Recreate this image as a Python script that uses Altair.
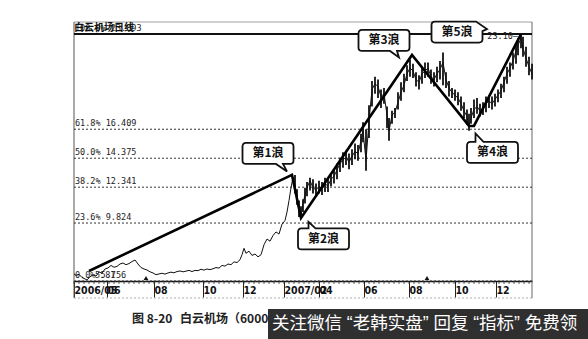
import altair as alt
import pandas as pd

# ---------------- data ----------------
# t = position along the trading-day axis (0 = first bar on the left)
T_LINE = [0, 2, 5, 8, 11, 13, 16, 19, 22, 25, 28, 31, 34, 37, 40, 43, 46, 49, 52, 55,
          58, 61, 64, 67, 70, 73, 76, 79, 82, 85, 88, 91, 94, 97, 100, 103, 106, 109, 112, 115,
          118, 121, 124, 127, 130, 133, 136, 139, 142, 145, 148, 151, 154, 157, 160, 163, 166, 168, 170, 172,
          175, 178, 181, 184, 187, 190, 193, 196, 199, 202, 205, 208, 211, 213, 215, 217, 219]
CLOSE_LINE = [6.25, 6.15, 6.22, 6.00, 5.90, 5.83, 6.05, 6.18, 6.10, 6.39, 6.30, 6.60, 6.67, 6.85, 6.72, 6.78, 6.95, 7.02, 6.90, 6.98,
              7.12, 7.23, 6.95, 6.70, 6.60, 6.53, 6.40, 6.32, 6.20, 6.25, 6.30, 6.24, 6.32, 6.38, 6.33, 6.42, 6.46, 6.40, 6.45, 6.50,
              6.42, 6.50, 6.48, 6.58, 6.52, 6.60, 6.55, 6.62, 6.70, 6.66, 6.85, 6.80, 6.95, 6.90, 7.10, 7.05, 7.25, 7.60, 8.05, 7.70,
              7.85, 7.55, 7.65, 7.45, 7.60, 8.30, 8.70, 8.55, 8.95, 9.20, 9.05, 9.75, 10.00, 10.60, 11.40, 12.30, 13.05]

T_BAR = [221, 223, 225, 227, 229, 231, 233, 236, 239, 242, 245, 248, 251, 254, 257, 260, 263, 266, 269, 272,
         275, 278, 281, 284, 287, 289, 292, 295, 298, 301, 304, 307, 310, 313, 315, 318, 321, 324, 327, 330,
         333, 336, 339, 342, 345, 348, 351, 354, 357, 360, 363, 366, 369, 372, 375, 378, 381, 384, 387, 390,
         393, 395, 397, 400, 403, 406, 409, 412, 415, 418, 421, 424, 427, 430, 433, 436, 439, 442, 444, 447,
         449, 452, 455, 458]
CLOSE_BAR = [12.40, 11.60, 10.70, 10.30, 11.20, 11.80, 12.30, 12.80, 12.30, 12.15, 12.40, 12.25, 12.55, 12.45, 12.90, 13.10, 13.55, 14.00, 14.25, 14.45,
             14.10, 14.50, 14.85, 14.70, 15.60, 16.30, 14.20, 17.00, 19.20, 19.60, 19.40, 18.70, 18.90, 17.40, 16.30, 17.40, 17.60, 18.30, 19.00, 19.50,
             20.30, 20.70, 20.50, 19.90, 19.70, 20.30, 20.50, 20.70, 20.10, 19.90, 20.30, 20.60, 21.10, 19.90, 19.30, 19.00, 18.80, 18.60, 18.20, 17.70,
             17.30, 16.70, 17.20, 17.80, 18.00, 17.70, 17.80, 18.20, 18.40, 18.20, 18.50, 18.80, 19.10, 19.70, 20.30, 20.70, 21.20, 21.90, 22.30, 22.80,
             22.10, 21.40, 20.80, 20.30]
LOW_BAR = [11.90, 11.10, 10.25, 10.10, 10.60, 11.20, 11.70, 12.10, 11.90, 11.80, 11.90, 11.80, 12.00, 12.00, 12.40, 12.60, 12.90, 13.40, 13.70, 13.90,
           13.60, 13.90, 14.30, 14.20, 14.80, 15.50, 13.50, 15.80, 18.00, 18.90, 18.60, 17.90, 18.20, 16.50, 15.60, 16.80, 17.20, 17.80, 18.40, 19.00,
           19.80, 20.10, 20.00, 19.40, 19.20, 19.60, 20.00, 20.10, 19.60, 19.40, 19.70, 19.90, 19.50, 19.30, 18.70, 18.60, 18.40, 18.10, 17.70, 17.20,
           16.70, 16.30, 16.80, 17.20, 17.50, 17.30, 17.40, 17.60, 17.90, 17.80, 18.00, 18.30, 18.60, 19.00, 19.60, 20.10, 20.60, 21.00, 21.60, 22.10,
           21.50, 20.80, 20.20, 19.90]
HIGH_BAR = [13.20, 12.20, 11.40, 11.00, 11.50, 12.30, 12.70, 13.00, 12.90, 12.60, 12.80, 12.70, 13.00, 12.90, 13.30, 13.60, 14.00, 14.40, 14.80, 14.90,
            14.70, 15.00, 15.40, 15.30, 16.10, 16.90, 16.40, 18.10, 19.80, 20.10, 19.90, 19.20, 19.30, 18.00, 17.20, 17.70, 17.90, 19.00, 19.70, 20.30,
            20.90, 21.30, 21.00, 20.40, 20.20, 20.80, 21.10, 21.10, 20.60, 20.40, 20.80, 21.20, 21.80, 20.40, 19.80, 19.30, 19.20, 19.00, 18.70, 18.30,
            17.80, 17.50, 17.90, 18.50, 18.60, 18.20, 18.30, 18.70, 18.80, 18.70, 18.90, 19.20, 19.60, 20.10, 20.80, 21.10, 21.80, 22.40, 22.80, 23.10,
            22.90, 22.20, 21.50, 21.00]

# Elliott wave path
WAVE_T = [15, 218, 227, 338, 395, 400, 447]
WAVE_V = [6.46, 13.20, 10.18, 21.62, 16.64, 16.64, 23.09]

# wave call-outs
CALLOUT_LABEL = ["第1浪", "第2浪", "第3浪", "第4浪", "第5浪"]
CALLOUT_T = [194, 249.5, 310, 418.5, 383]
CALLOUT_V = [14.71, 8.71, 22.64, 14.78, 23.23]

# Fibonacci levels
FIB_PCT = ["100.0%", "61.8%", "50.0%", "38.2%", "23.6%", "0.0%"]
FIB_VAL = [23.093, 16.409, 14.375, 12.341, 9.824, 5.756]

# x axis ticks
TICK_T = [0, 33, 80, 129, 169, 210, 245, 290, 335, 381, 422]
TICK_LABEL = ["2006/05", "06", "08", "10", "12", "2007/02", "04", "06", "08", "10", "12"]

EVENT_T = [72, 353]
PEAK_T, PEAK_V = [447], [23.10]
LOW_T, LOW_V = [13], [5.83]

TITLE = "白云机场日线"
CAPTION_NO = "图 8-20"
CAPTION = "白云机场（600004）2006年5月至2008年1月日线走势"
BANNER = "关注微信 “老韩实盘” 回复 “指标” 免费领"

# ---------------- chart ----------------
W, H = 458, 247
YMIN, YMAX = 5.756, 23.093
xs = alt.Scale(domain=[0, W], nice=False, zero=False)
ys = alt.Scale(domain=[YMIN, YMAX], nice=False, zero=False)

label_expr = " : ".join(
    f"datum.value == {t} ? '{l}'" for t, l in zip(TICK_T, TICK_LABEL)) + " : ''"
xaxis = alt.Axis(values=TICK_T, labelExpr=label_expr, title=None, grid=False,
                 domain=True, domainColor="#111", domainWidth=1.6,
                 ticks=True, tickSize=16, tickColor="#222", tickWidth=1,
                 labelAlign="left", labelBaseline="top", labelPadding=-12,
                 labelFlush=False, labelOverlap=False, labelBound=False,
                 labelFont="Liberation Sans Narrow, DejaVu Sans Condensed, sans-serif",
                 labelFontSize=10.5, labelFontWeight="bold", labelColor="#111")

def X(field):
    return alt.X(field, type="quantitative", scale=xs, axis=xaxis)

def Y(field):
    return alt.Y(field, type="quantitative", scale=ys, axis=None)

line_df = pd.DataFrame({"t": T_LINE + T_BAR, "close": CLOSE_LINE + CLOSE_BAR})
bar_df = pd.DataFrame({"t": T_BAR, "lo": LOW_BAR, "hi": HIGH_BAR})
wave_df = pd.DataFrame({"t": WAVE_T, "v": WAVE_V})
fib_df = pd.DataFrame({"pct": FIB_PCT, "v": FIB_VAL})
fib_df["txt"] = [f"{p:<7}{v:.3f}" for p, v in zip(FIB_PCT, FIB_VAL)]
call_df = pd.DataFrame({"label": CALLOUT_LABEL, "t": CALLOUT_T, "v": CALLOUT_V})
minor_df = pd.DataFrame({"t": list(range(0, W + 1, 5))})
event_df = pd.DataFrame({"t": EVENT_T})
peak_df = pd.DataFrame({"t": PEAK_T, "v": PEAK_V})
low_df = pd.DataFrame({"t": LOW_T, "v": LOW_V})

layers = []

# frame chrome
chrome = pd.DataFrame({"k": [0]})
layers.append(alt.Chart(chrome).mark_rule(color="#888", strokeWidth=0.8).encode(
    x=alt.value(0), x2=alt.value(W), y=alt.value(-12)))
layers.append(alt.Chart(chrome).mark_rule(color="#555", strokeWidth=1).encode(
    x=alt.value(0), y=alt.value(-12), y2=alt.value(264)))
layers.append(alt.Chart(chrome).mark_rule(color="#666", strokeWidth=1).encode(
    x=alt.value(W), y=alt.value(-12), y2=alt.value(264)))
layers.append(alt.Chart(chrome).mark_rule(color="#999", strokeWidth=0.8, strokeDash=[2, 2]).encode(
    x=alt.value(0), x2=alt.value(W), y=alt.value(264)))

# fibonacci lines + labels
layers.append(alt.Chart(fib_df).mark_rule(color="#333", strokeWidth=1, strokeDash=[2, 2]).encode(
    y=Y("v")))
layers.append(alt.Chart(chrome).mark_rule(color="#111", strokeWidth=1.8).encode(
    x=alt.value(0), x2=alt.value(W), y=alt.value(0)))
layers.append(alt.Chart(fib_df).mark_text(
    align="left", baseline="bottom", dx=1, dy=-1, font="DejaVu Sans Mono",
    fontSize=8.5, color="#222").encode(x=alt.value(0), y=Y("v"), text="txt:N"))

# minor ticks and event markers
layers.append(alt.Chart(minor_df).mark_rule(color="#333", strokeWidth=0.8).encode(
    x=X("t"), y=alt.value(H), y2=alt.value(H + 3)))
layers.append(alt.Chart(event_df).mark_point(shape="triangle-up", size=22, filled=True,
                                             color="#111", opacity=1).encode(
    x=X("t"), y=alt.value(H - 3)))

# price
layers.append(alt.Chart(line_df).mark_line(color="#111", strokeWidth=1).encode(
    x=X("t"), y=Y("close")))
layers.append(alt.Chart(bar_df).mark_rule(color="#111", strokeWidth=1.8).encode(
    x=X("t"), y=Y("lo"), y2="hi:Q"))

# waves
layers.append(alt.Chart(wave_df).mark_line(color="#000", strokeWidth=2.6).encode(
    x=X("t"), y=Y("v")))

# peak / low labels
layers.append(alt.Chart(peak_df).mark_text(align="right", baseline="middle", dx=-3, dy=2,
                                           font="DejaVu Sans Mono", fontSize=8.5, color="#222").encode(
    x=X("t"), y=Y("v"), text=alt.value("23.10—")))
layers.append(alt.Chart(low_df).mark_text(align="left", baseline="bottom", dx=8, dy=0,
                                          font="DejaVu Sans Mono", fontSize=8.5, color="#222").encode(
    x=X("t"), y=Y("v"), text=alt.value("5.81")))

# call-out bubbles
def bubble_path(w, h, rc, edge, b1, b2, tip):
    r = w / 2.0
    hw, hh = w / 2.0, h / 2.0

    def p(x, y):
        return f"{x / r:.3f},{y / r:.3f}"
    d = [f"M{p(-hw + rc, -hh)}"]
    if edge == "top":
        d += [f"L{p(b1, -hh)}", f"L{p(*tip)}", f"L{p(b2, -hh)}"]
    if edge == "corner":
        d += [f"L{p(b1, -hh)}", f"L{p(*tip)}", f"L{p(hw, b2)}", f"L{p(hw, hh - rc)}"]
    else:
        d += [f"L{p(hw - rc, -hh)}", f"Q{p(hw, -hh)} {p(hw, -hh + rc)}", f"L{p(hw, hh - rc)}"]
    d += [f"Q{p(hw, hh)} {p(hw - rc, hh)}"]
    if edge == "bottom":
        d += [f"L{p(b2, hh)}", f"L{p(*tip)}", f"L{p(b1, hh)}"]
    d += [f"L{p(-hw + rc, hh)}", f"Q{p(-hw, hh)} {p(-hw, hh - rc)}",
          f"L{p(-hw, -hh + rc)}", f"Q{p(-hw, -hh)} {p(-hw + rc, -hh)}", "Z"]
    return " ".join(d)

BW, BH = 51, 21
tails = {
    "第1浪": ("bottom", 8, 15, (19, 18)),
    "第2浪": ("top", -15, -8, (-15, -17)),
    "第3浪": ("bottom", 6, 13, (15, 17)),
    "第4浪": ("top", -17, -9, (-17, -19)),
    "第5浪": ("corner", 19, -1, (30, -3)),
}
for lab in CALLOUT_LABEL:
    edge, b1, b2, tip = tails[lab]
    path = bubble_path(BW, BH, 3.5, edge, b1, b2, tip)
    base = alt.Chart(call_df).transform_filter(alt.datum.label == lab)
    layers.append(base.mark_point(shape=path, size=BW * BW, filled=True, fill="white",
                                  stroke="#111", strokeWidth=1.8, opacity=1).encode(
        x=X("t"), y=Y("v")))
    layers.append(base.mark_text(font="Noto Sans CJK SC", fontSize=12, fontWeight="bold",
                                 color="#111", baseline="middle", align="center").encode(
        x=X("t"), y=Y("v"), text="label:N"))

# title
layers.append(alt.Chart(chrome).mark_text(align="left", baseline="bottom", font="Noto Sans CJK SC",
                                          fontSize=10, fontWeight="bold", color="#111").encode(
    x=alt.value(0), y=alt.value(-1), text=alt.value(TITLE)))

# caption + banner
layers.append(alt.Chart(chrome).mark_text(align="left", baseline="middle", font="Noto Sans CJK SC",
                                          fontSize=12, fontWeight="bold", color="#222").encode(
    x=alt.value(58), y=alt.value(285), text=alt.value(CAPTION_NO)))
layers.append(alt.Chart(chrome).mark_text(align="left", baseline="middle", font="Noto Sans CJK SC",
                                          fontSize=12, fontWeight="bold", color="#222").encode(
    x=alt.value(106), y=alt.value(285), text=alt.value(CAPTION)))
layers.append(alt.Chart(chrome).mark_rect(color="#2f2f2f", opacity=1).encode(
    x=alt.value(194), x2=alt.value(514), y=alt.value(275), y2=alt.value(305)))
layers.append(alt.Chart(chrome).mark_text(align="left", baseline="middle",
                                          font="Liberation Sans, Noto Sans CJK SC",
                                          fontSize=17.5, color="white").encode(
    x=alt.value(198), y=alt.value(290), text=alt.value(BANNER)))

chart = alt.layer(*layers).properties(
    width=W, height=H, autosize="none",
    padding={"left": 74, "top": 34, "right": 56, "bottom": 58},
    background="white",
).configure_view(stroke=None)

chart.save("out.html", embed_options={"renderer": "svg", "actions": False})
